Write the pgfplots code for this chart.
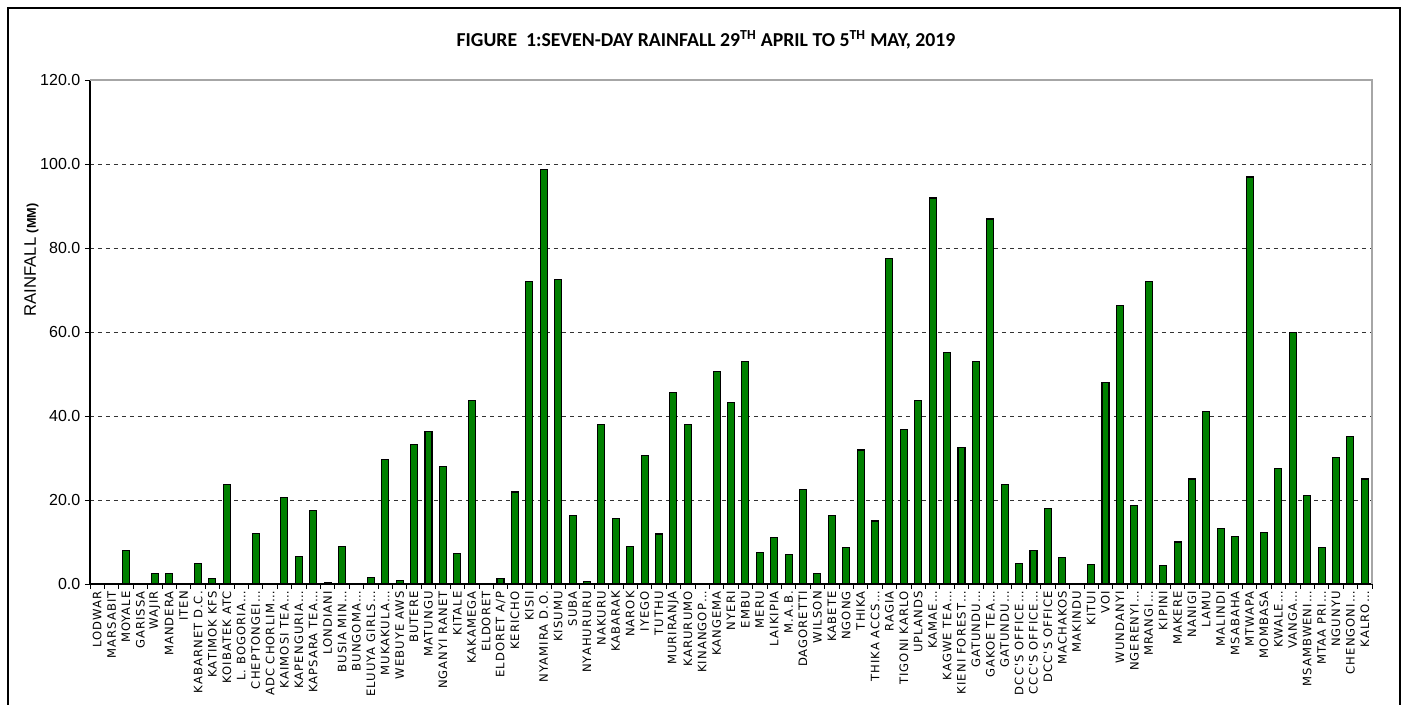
\documentclass[border=0pt]{standalone}
\usepackage{fontspec}
\setmainfont{Liberation Sans}
\newfontfamily\titlefont{Carlito}
\newfontfamily\labfont[LetterSpace=9]{DejaVu Sans}
\usepackage{pgfplots}
\pgfplotsset{compat=1.18}
\definecolor{bargreen}{RGB}{0,128,0}
\pgfplotstableread{
x y
1 0
2 0
3 7.9
4 0
5 2.6
6 2.6
7 0
8 4.8
9 1.2
10 23.6
11 0
12 12.1
13 0
14 20.5
15 6.6
16 17.6
17 0.4
18 9.0
19 0
20 1.5
21 29.7
22 0.8
23 33.3
24 36.4
25 27.9
26 7.2
27 43.6
28 0
29 1.2
30 21.9
31 72.1
32 98.6
33 72.6
34 16.4
35 0.7
36 37.9
37 15.7
38 9.0
39 30.7
40 11.9
41 45.5
42 37.9
43 0
44 50.7
45 43.3
46 52.9
47 7.4
48 11.0
49 7.1
50 22.6
51 2.4
52 16.2
53 8.6
54 31.9
55 15.0
56 77.6
57 36.7
58 43.6
59 91.9
60 55.2
61 32.6
62 52.9
63 86.9
64 23.8
65 4.8
66 7.9
67 17.9
68 6.4
69 0
70 4.7
71 47.9
72 66.2
73 18.6
74 72.1
75 4.3
76 10.0
77 25.0
78 41.0
79 13.3
80 11.4
81 96.9
82 12.2
83 27.5
84 59.8
85 21.1
86 8.7
87 30.1
88 35.1
89 25.0
}\raindata
\begin{document}
\begin{tikzpicture}
\useasboundingbox (-67.5pt,-90.75pt) rectangle (990pt,438pt);
\draw[line width=1.5pt] (-61.5pt,-100pt) -- (-61.5pt,432pt) -- (982.5pt,432pt) -- (982.5pt,-100pt);
\begin{axis}[
  at={(0,0)}, anchor=south west,
  scale only axis, width=961.5pt, height=378pt,
  xmin=0.5, xmax=89.5, ymin=0, ymax=120,
  axis x line*=bottom, axis y line*=left,
  axis line style={black, line width=0.8pt},
  ybar, bar width=5.25pt,
  xtick={1,...,89},
  xticklabels={LODWAR,MARSABIT,MOYALE,GARISSA,WAJIR,MANDERA,ITEN,KABARNET D.C.,KATIMOK KFS,KOIBATEK ATC,L. BOGORIA…,CHEPTONGEI…,ADC CHORLIM…,KAIMOSI TEA…,KAPENGURIA…,KAPSARA TEA…,LONDIANI,BUSIA MIN…,BUNGOMA…,ELUUYA GIRLS…,MUKAKULA…,WEBUYE AWS,BUTERE,MATUNGU,NGANYI RANET,KITALE,KAKAMEGA,ELDORET,ELDORET A/P,KERICHO,KISII,NYAMIRA D.O.,KISUMU,SUBA,NYAHURURU,NAKURU,KABARAK,NAROK,IYEGO,TUTHU,MURIRANJA,KARURUMO,KINANGOP…,KANGEMA,NYERI,EMBU,MERU,LAIKIPIA,M.A.B.,DAGORETTI,WILSON,KABETE,NGONG,THIKA,THIKA ACCS…,RAGIA,TIGONI KARLO,UPLANDS,KAMAE…,KAGWE TEA…,KIENI FOREST…,GATUNDU…,GAKOE TEA…,GATUNDU…,DCC'S OFFICE…,CCC'S OFFICE…,DCC'S OFFICE,MACHAKOS,MAKINDU,KITUI,VOI,WUNDANYI,NGERENYI…,MRANGI…,KIPINI,MAKERE,NANIGI,LAMU,MALINDI,MSABAHA,MTWAPA,MOMBASA,KWALE…,VANGA…,MSAMBWENI…,MTAA PRI…,NGUNYU,CHENGONI…,KALRO…},
  major x tick style={draw=none},
  minor xtick={0.5,1.5,...,89.5},
  tick align=outside, major tick length=3.75pt, minor tick length=3.75pt,
  tick style={black, line width=0.6pt},
  xticklabel style={rotate=90, anchor=east, font=\labfont\fontsize{8.7pt}{9.5pt}\selectfont, inner sep=1.5pt},
  ytick={0,20,...,120},
  yticklabel style={font=\fontsize{12pt}{13pt}\selectfont, /pgf/number format/fixed, /pgf/number format/fixed zerofill, /pgf/number format/precision=1, /pgf/number format/assume math mode=true},
  ymajorgrids, grid style={dashed, black!80, line width=0.7pt},
  every axis y label/.style={at={(rel axis cs:0,0.643)}, xshift=-44pt, rotate=90, anchor=center},
  ylabel={RAINFALL {\fontsize{9.5pt}{10pt}\selectfont\bfseries (MM)}},
  ylabel style={font=\fontsize{12.5pt}{13pt}\selectfont},
  title={FIGURE\ \ 1:SEVEN-DAY RAINFALL 29\textsuperscript{TH} APRIL TO 5\textsuperscript{TH} MAY, 2019},
  title style={at={(rel axis cs:0.5,1)}, xshift=-18.75pt, yshift=24pt, anchor=center, font=\titlefont\bfseries\fontsize{14.8pt}{16pt}\selectfont},
]
\addplot[fill=bargreen, draw=black, line width=0.8pt] table[x=x,y=y] {\raindata};
\end{axis}
\draw[gray!70, line width=0.8pt] (0,378pt) -- (961.5pt,378pt) -- (961.5pt,0);
\end{tikzpicture}
\end{document}
